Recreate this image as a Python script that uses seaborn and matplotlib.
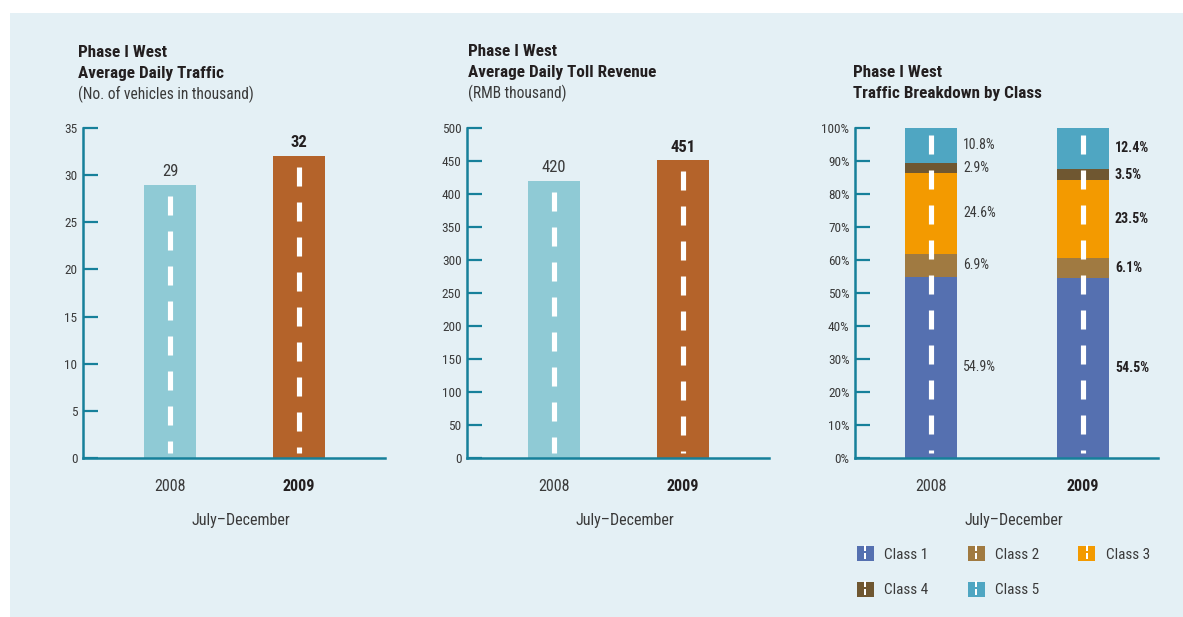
import matplotlib
matplotlib.use("Agg")
import matplotlib.pyplot as plt
from matplotlib.lines import Line2D
from matplotlib.patches import Patch, Rectangle
from matplotlib.path import Path
from matplotlib.legend_handler import HandlerTuple
import numpy as np
import seaborn as sns

# data
YEARS = ["2008", "2009"]
TRAFFIC = [29, 32]            # thousand vehicles / day
REVENUE = [420, 451]          # RMB thousand / day
CLASSES = ["Class 1", "Class 2", "Class 3", "Class 4", "Class 5"]
SHARE_2008 = [54.9, 6.9, 24.6, 2.9, 10.8]
SHARE_2009 = [54.5, 6.1, 23.5, 3.5, 12.4]

BAR_COLORS = ["#8fcad5", "#b4632a"]
CLASS_COLORS = ["#5570b0", "#a07a41", "#f39a00", "#6f5731", "#4fa6c2"]
TEAL = "#16809a"
BG = "#e4f0f5"
TXT = "#3a3a3a"
DARK = "#231f20"
W, H = 1183, 617

sns.set_theme(style="white")
# narrow sans first; later names only used if the first ones are missing
plt.rcParams["font.family"] = ["Roboto Condensed", "Archivo Narrow",
                               "PT Sans Narrow", "Liberation Sans Narrow",
                               "Liberation Sans", "DejaVu Sans"]
plt.rcParams["lines.scale_dashes"] = False

fig = plt.figure(figsize=(W / 100, H / 100), dpi=100)
fig.patch.set_facecolor("white")
fig.add_artist(Rectangle((10 / W, 0), 1, 1 - 13 / H, transform=fig.transFigure,
                         facecolor=BG, edgecolor="none", zorder=-10))


def px_axes(left, top, width, height):
    ax = fig.add_axes([left / W, 1 - (top + height) / H, width / W, height / H])
    ax.set_facecolor("none")
    return ax


def style_axes(ax, ymax, step, fmt):
    sns.despine(ax=ax)
    for s in ("left", "bottom"):
        ax.spines[s].set_color(TEAL)
        ax.spines[s].set_linewidth(1.8)
    ax.set_ylim(0, ymax)
    ticks = np.arange(0, ymax + step, step)
    ax.set_yticks(ticks, [fmt.format(t) for t in ticks])
    ax.tick_params(axis="y", left=True, direction="in", length=10.5, width=1.6,
                   color=TEAL, pad=4, labelsize=9.5, labelcolor=TXT)
    ax.tick_params(axis="x", bottom=False, length=0, pad=15, labelsize=11.5,
                   labelcolor=TXT)
    ax.set_xticks([0, 1], YEARS)
    lab = ax.get_xticklabels()[1]
    lab.set_fontweight("bold"); lab.set_color(DARK)
    ax.set_xlabel("July\u2013December", fontsize=11.5, color=TXT)
    ax.xaxis.label.set_va("center")
    ax.xaxis.set_label_coords(0.523, -63 / 330)
    ax.set_ylabel("")
    ax.grid(False)


def road_marks(ax, x, top, top_px=11, bottom_px=5):
    per_px = ax.get_ylim()[1] / 330
    ax.plot([x, x], [top - top_px * per_px, bottom_px * per_px], color="white",
            lw=3.7, dashes=(13.7, 11.5), dash_capstyle="butt", zorder=5)


def titles(x, y0, lines):
    for i, (txt, bold) in enumerate(lines):
        fig.text(x / W, 1 - (y0 + 21 * i) / H, txt,
                 fontsize=12.3 if bold else 11.2,
                 fontweight="bold" if bold else "normal",
                 color=DARK if bold else TXT, va="baseline", ha="left")


def simple_panel(left, values, ymax, step):
    ax = px_axes(left, 128, 302, 330)
    sns.barplot(x=YEARS, y=values, hue=YEARS, palette=BAR_COLORS, saturation=1,
                width=52 / 129, legend=False, linewidth=0, edgecolor="none", ax=ax)
    ax.set_xlim(-87 / 129, (302 - 87) / 129)
    style_axes(ax, ymax, step, "{:.0f}")
    for i, v in enumerate(values):
        road_marks(ax, i, v)
        ax.annotate(str(v), (i, v), xytext=(0, 4.2), textcoords="offset points",
                    ha="center", va="bottom", fontsize=12,
                    fontweight="bold" if i == 1 else "normal",
                    color=DARK if i == 1 else TXT)
    return ax


simple_panel(83, TRAFFIC, 35, 5)
simple_panel(467, REVENUE, 500, 50)

titles(78, 57, [("Phase I West", True), ("Average Daily Traffic", True),
                ("(No. of vehicles in thousand)", False)])
titles(468, 56, [("Phase I West", True), ("Average Daily Toll Revenue", True),
                 ("(RMB thousand)", False)])
titles(853, 77, [("Phase I West", True), ("Traffic Breakdown by Class", True)])

# stacked breakdown: cumulative bars drawn top class first
ax3 = px_axes(855, 128, 303, 330)
shares = np.array([SHARE_2008, SHARE_2009])
cum = shares.cumsum(axis=1)
bw = 52 / 152
for k in reversed(range(len(CLASSES))):
    sns.barplot(x=YEARS, y=cum[:, k], color=CLASS_COLORS[k], saturation=1,
                width=bw, linewidth=0, edgecolor="none", ax=ax3)
ax3.set_xlim(-76 / 152, (303 - 76) / 152)
style_axes(ax3, 100, 10, "{:.0f}%")
for i in range(2):
    road_marks(ax3, i, 100, top_px=7)
    for k in range(len(CLASSES)):
        mid = cum[i, k] - shares[i, k] / 2
        ax3.annotate(f"{shares[i, k]:.1f}%", (i + bw / 2, mid), xytext=(4.3, 0),
                     textcoords="offset points", ha="left", va="center",
                     fontsize=10, fontweight="bold" if i == 1 else "normal",
                     color=DARK if i == 1 else TXT)

# small white split dash inside each legend square
mark = Path([(-0.15, 0.12), (0.15, 0.12), (0.15, 1), (-0.15, 1), (0, 0),
             (-0.15, -1), (0.15, -1), (0.15, -0.12), (-0.15, -0.12), (0, 0)],
            [Path.MOVETO, Path.LINETO, Path.LINETO, Path.LINETO, Path.CLOSEPOLY] * 2)
handles = [(Patch(facecolor=c, edgecolor="none"),
            Line2D([], [], ls="none", marker=mark, ms=10, mew=0,
                   markerfacecolor="white"))
           for c in CLASS_COLORS]
order = [0, 3, 1, 4, 2]   # legend fills by column; this gives rows 1-2-3 / 4-5
fig.legend([handles[i] for i in order], [CLASSES[i] for i in order],
           handler_map={tuple: HandlerTuple(ndivide=1, pad=0)}, ncol=3,
           loc="upper left", bbox_to_anchor=(857 / W, 1 - 546 / H),
           frameon=False, borderpad=0, borderaxespad=0, fontsize=11,
           handlelength=1.1, handleheight=1.1, handletextpad=0.7,
           columnspacing=2.55, labelspacing=1.33, labelcolor=TXT)

fig.savefig("out.png", dpi=100, facecolor=fig.get_facecolor())
